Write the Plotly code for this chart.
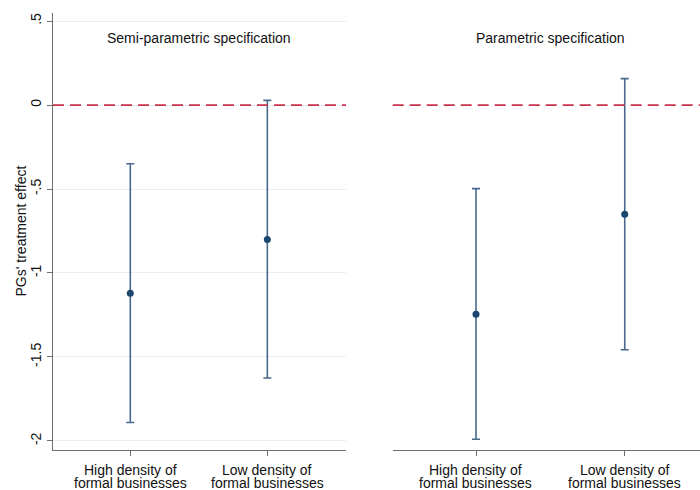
import plotly.graph_objects as go

# Point estimates and 95% confidence bounds by business-density group
group_lines = [("High density of", "formal businesses"),
               ("Low density of", "formal businesses")]
groups = [" ".join(g) for g in group_lines]
semi_est = [-1.12, -0.80]
semi_lo = [-1.89, -1.625]
semi_hi = [-0.35, 0.028]
para_est = [-1.245, -0.65]
para_lo = [-1.99, -1.457]
para_hi = [-0.498, 0.157]

panel_titles = ["Semi-parametric specification", "Parametric specification"]
y_title = "PGs' treatment effect"
y_ticks = [0.5, 0, -0.5, -1, -1.5, -2]
y_ticklabels = [".5", "0", "-.5", "-1", "-1.5", "-2"]

NAVY = "#1a476f"
BAR = "#48698c"
RED = "#c8324e"
AXIS = "#6e6e6e"
TEXT = "#111111"
FONT = "Liberation Sans, Arial, sans-serif"

fig = go.Figure()


def add_panel(est, lo, hi, xa, ya):
    fig.add_trace(go.Scatter(
        x=groups, y=est, xaxis=xa, yaxis=ya, mode="markers",
        marker=dict(color=NAVY, size=7),
        error_y=dict(type="data", symmetric=False,
                     array=[h - e for h, e in zip(hi, est)],
                     arrayminus=[e - l for e, l in zip(est, lo)],
                     color=BAR, thickness=1.6, width=4),
        showlegend=False, hoverinfo="skip",
    ))


add_panel(semi_est, semi_lo, semi_hi, "x", "y")
add_panel(para_est, para_lo, para_hi, "x2", "y2")

# reference line at zero in both panels
for xr in ("x domain", "x2 domain"):
    fig.add_shape(type="line", xref=xr, yref="y", x0=0, x1=1, y0=0, y1=0,
                  line=dict(color=RED, width=1.7, dash="11px,6px"))

for xr, title in zip(("x", "x2"), panel_titles):
    fig.add_annotation(text=title, xref=xr, yref="y", x=0.5, y=0.40,
                       showarrow=False, font=dict(size=14, color=TEXT, family=FONT))

# vertical axis title, placed just left of the rotated tick labels
fig.add_annotation(text=y_title, xref="paper", yref="paper", x=20 / 700, y=0.5,
                   xanchor="center", yanchor="middle", textangle=-90,
                   showarrow=False, font=dict(size=14, color=TEXT, family=FONT))

# two-line category labels under each tick, set with tight line spacing
for xr in ("x", "x2"):
    for g, (line1, line2) in zip(groups, group_lines):
        for txt, shift in ((line1, -20), (line2, -33)):
            fig.add_annotation(text=txt, xref=xr, yref="paper", x=g, y=0,
                               yanchor="middle", yshift=shift, showarrow=False,
                               font=dict(size=14, color=TEXT, family=FONT))

xaxis_common = dict(
    type="category", showline=True, linecolor=AXIS, linewidth=1.3,
    ticks="outside", ticklen=5, tickcolor=AXIS, showgrid=False, zeroline=False,
    showticklabels=False, automargin=False,
)

fig.update_layout(
    width=700, height=490,
    margin=dict(l=0, r=0, t=13, b=40),
    paper_bgcolor="white", plot_bgcolor="white",
    font=dict(family=FONT, size=14, color=TEXT),
    xaxis=dict(domain=[53 / 700, 346 / 700], range=[-0.564, 1.574], **xaxis_common),
    xaxis2=dict(domain=[392.7 / 700, 1.0], range=[-0.560, 1.506], **xaxis_common),
    yaxis=dict(
        range=[-2.054, 0.548], tickvals=y_ticks, ticktext=y_ticklabels,
        tickangle=-90, showline=True, linecolor=AXIS, linewidth=1.3,
        ticks="outside", ticklen=5, tickcolor=AXIS,
        showgrid=True, gridcolor="#e6eff1", gridwidth=1, zeroline=False,
        tickfont=dict(size=14, color=TEXT, family=FONT), automargin=False,
    ),
    yaxis2=dict(
        anchor="x2", matches="y", showline=False, showgrid=False,
        showticklabels=False, ticks="", zeroline=False,
    ),
)

fig.write_html("out.html")
